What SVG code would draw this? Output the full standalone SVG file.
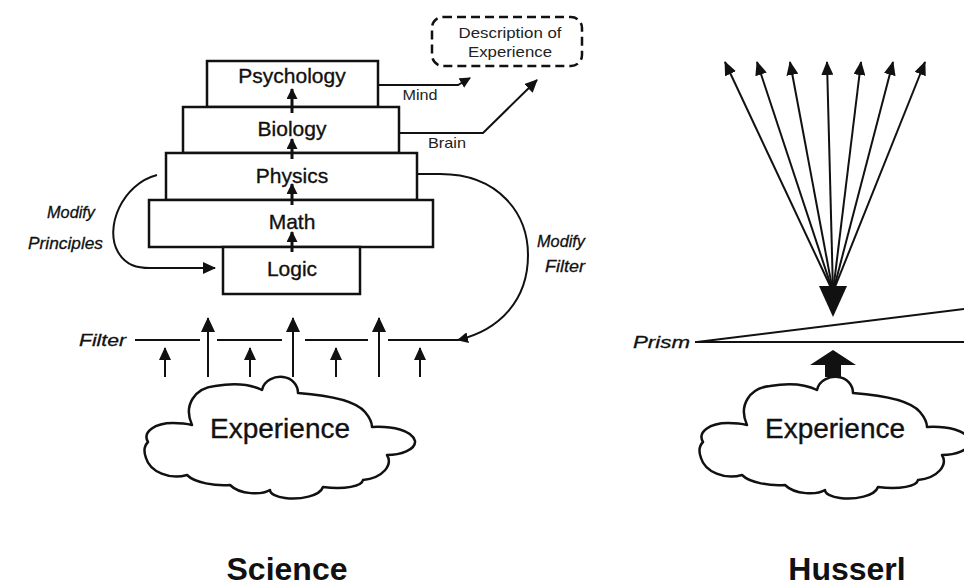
<svg xmlns="http://www.w3.org/2000/svg" width="964" height="586" viewBox="0 0 964 586">
<defs>
<style>
.box{fill:#fff;stroke:#111;stroke-width:2.5}
.lbl{font-family:"Liberation Sans",Arial,sans-serif;font-size:21px;fill:#111;stroke:#111;stroke-width:0.35;text-anchor:middle}
.sm{font-family:"Liberation Sans",Arial,sans-serif;font-size:15px;fill:#222;text-anchor:middle}
.it{font-family:"Liberation Sans",Arial,sans-serif;font-size:17px;font-style:italic;fill:#111;stroke:#111;stroke-width:0.3}
.exp{font-family:"Liberation Sans",Arial,sans-serif;font-size:28px;fill:#111;stroke:#111;stroke-width:0.35;text-anchor:middle}
.title{font-family:"Liberation Sans",Arial,sans-serif;font-size:32px;font-weight:bold;fill:#111;text-anchor:middle}
.ln{fill:none;stroke:#111;stroke-width:2}
.stk{fill:none;stroke:#111;stroke-width:3}
.cloud{fill:#fff;stroke:#111;stroke-width:2.5;stroke-linejoin:round}
</style>
<marker id="ah" markerUnits="userSpaceOnUse" viewBox="0 0 11 11" markerWidth="11" markerHeight="11" refX="10" refY="5.5" orient="auto"><path d="M0,0 L11,5.5 L0,11 z" fill="#111"/></marker>
<marker id="ahL" markerUnits="userSpaceOnUse" viewBox="0 0 15 14" markerWidth="15" markerHeight="14" refX="14" refY="7" orient="auto"><path d="M0,0 L15,7 L0,14 z" fill="#111"/></marker>
<marker id="ahS" markerUnits="userSpaceOnUse" viewBox="0 0 13 12" markerWidth="13" markerHeight="12" refX="12" refY="6" orient="auto"><path d="M0,0 L13,6 L0,12 z" fill="#111"/></marker>
<marker id="ahF" markerUnits="userSpaceOnUse" viewBox="0 0 14 12" markerWidth="14" markerHeight="12" refX="13" refY="6" orient="auto"><path d="M0,0 L14,6 L0,12 z" fill="#111"/></marker>
<path id="cloudShape" d="M192,425 C183,405 195,388 215,386 C232,383 250,384 262,390 C264,380 275,376 283,377 C292,378 298,385 298,393 C325,395 355,400 365,412 C370,418 372,423 372,427 C392,426 412,430 415,441 C416,450 400,455 387,455 C393,465 383,478 363,480 C362,486 345,490 323,487 C320,496 300,500 285,498 C277,497 270,494 270,490 C262,495 240,495 230,485 C215,486 195,483 187,475 C170,480 150,472 146,458 C143,450 145,445 148,442 C142,432 155,423 173,423 C180,423 188,424 192,425 Z"/>
</defs>

<g id="science">
  <g id="psychology"><rect class="box" x="207" y="61" width="171" height="46"/><text class="lbl" x="292" y="83">Psychology</text></g>
  <g id="biology"><rect class="box" x="183" y="107" width="216" height="46"/><text class="lbl" x="292" y="136">Biology</text></g>
  <g id="physics"><rect class="box" x="166" y="153" width="251" height="47"/><text class="lbl" x="292" y="183">Physics</text></g>
  <g id="math"><rect class="box" x="149" y="200" width="284" height="47"/><text class="lbl" x="292" y="229">Math</text></g>
  <g id="logic"><rect class="box" x="223" y="247" width="137" height="47"/><text class="lbl" x="292" y="276">Logic</text></g>
  <g id="description"><rect x="432" y="17" width="150" height="49" rx="11" fill="#fff" stroke="#111" stroke-width="2.5" stroke-dasharray="9 5"/><text class="sm" x="510" y="38" textLength="103" lengthAdjust="spacingAndGlyphs">Description of</text><text class="sm" x="510" y="57" textLength="84" lengthAdjust="spacingAndGlyphs">Experience</text></g>
  <g id="filter"><text class="it" x="79" y="346" textLength="47" lengthAdjust="spacingAndGlyphs">Filter</text>
    <path class="ln" d="M135,340 H200 M217,340 H282 M305,340 H368 M388,340 H458" stroke-width="2.5"/></g>
  <g id="experience-left"><use href="#cloudShape" class="cloud"/><text class="exp" x="280" y="438">Experience</text></g>
  <g id="label-science"><text class="title" x="287" y="580">Science</text></g>
  <g id="label-modify-principles"><text class="it" x="47" y="218" textLength="48" lengthAdjust="spacingAndGlyphs">Modify</text><text class="it" x="28" y="249" textLength="75" lengthAdjust="spacingAndGlyphs">Principles</text></g>
  <g id="label-modify-filter"><text class="it" x="537" y="247" textLength="48" lengthAdjust="spacingAndGlyphs">Modify</text><text class="it" x="545" y="272" textLength="40" lengthAdjust="spacingAndGlyphs">Filter</text></g>
  <g id="label-mind"><text class="sm" x="420" y="100" textLength="35" lengthAdjust="spacingAndGlyphs">Mind</text></g>
  <g id="label-brain"><text class="sm" x="447" y="148" textLength="38" lengthAdjust="spacingAndGlyphs">Brain</text></g>
</g>

<g id="husserl">
  <g id="prism"><text class="it" x="633" y="348" textLength="57" lengthAdjust="spacingAndGlyphs">Prism</text>
    <path class="ln" d="M695,342 L964,342 M697,342 L964,309" stroke-width="2.5"/></g>
  <g id="experience-right"><use href="#cloudShape" class="cloud" x="555"/><text class="exp" x="835" y="438">Experience</text></g>
  <g id="label-husserl"><text class="title" x="847" y="580">Husserl</text></g>
</g>

<g id="connectors">
  <path class="stk" d="M292,113 V89" marker-end="url(#ah)"/>
  <path class="stk" d="M292,159 V139" marker-end="url(#ah)"/>
  <path class="stk" d="M292,205 V184" marker-end="url(#ah)"/>
  <path class="stk" d="M292,252 V232" marker-end="url(#ah)"/>
  <path class="ln" d="M378,85 L458,85 L470,78" marker-end="url(#ah)"/>
  <path class="ln" d="M399,133 L483,133 L537,80" marker-end="url(#ahS)"/>
  <path class="ln" d="M157,175 C122,184 104,228 118,252 C126,266 138,268 150,268 L215,268" marker-end="url(#ahS)"/>
  <path class="ln" d="M417,174 L440,174 C500,174 528,215 528,255 C528,300 500,330 458,340" marker-end="url(#ah)"/>
  <path class="ln" stroke-width="2.5" d="M208,377 V318" marker-end="url(#ahL)"/>
  <path class="ln" stroke-width="2.5" d="M293,377 V318" marker-end="url(#ahL)"/>
  <path class="ln" stroke-width="2.5" d="M379,377 V318" marker-end="url(#ahL)"/>
  <path class="ln" stroke-width="2.5" d="M165,377 V348" marker-end="url(#ahS)"/>
  <path class="ln" stroke-width="2.5" d="M250,377 V348" marker-end="url(#ahS)"/>
  <path class="ln" stroke-width="2.5" d="M336,377 V348" marker-end="url(#ahS)"/>
  <path class="ln" stroke-width="2.5" d="M420,377 V348" marker-end="url(#ahS)"/>
  <path class="ln" d="M833,292 L725,62" marker-end="url(#ahF)"/>
  <path class="ln" d="M833,292 L757,62" marker-end="url(#ahF)"/>
  <path class="ln" d="M833,292 L790,62" marker-end="url(#ahF)"/>
  <path class="ln" d="M833,292 L827,62" marker-end="url(#ahF)"/>
  <path class="ln" d="M833,292 L861,62" marker-end="url(#ahF)"/>
  <path class="ln" d="M833,292 L893,62" marker-end="url(#ahF)"/>
  <path class="ln" d="M833,292 L925,62" marker-end="url(#ahF)"/>
  <polygon points="819,286 847,286 833,317" fill="#111"/>
  <polygon points="833,350 856,365 841,365 841,377 825,377 825,365 810,365" fill="#111"/>
</g>
</svg>
